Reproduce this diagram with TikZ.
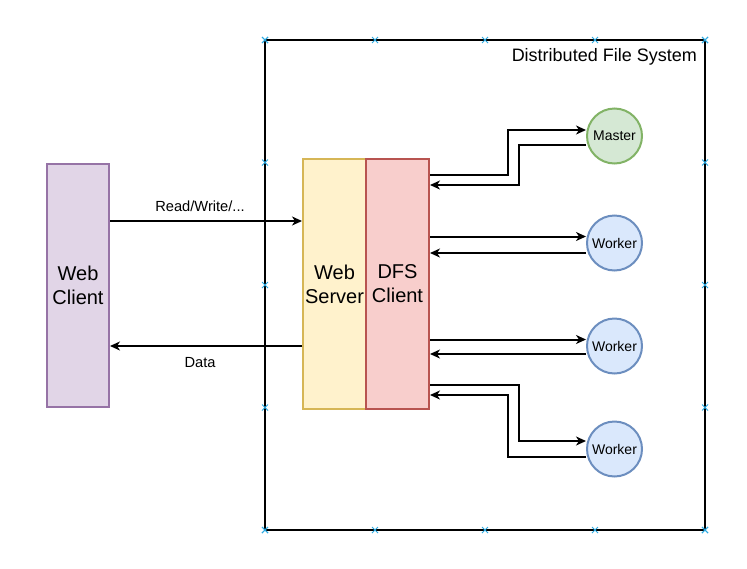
\documentclass[tikz,border=0pt]{standalone}
\usepackage{fontspec}
\setmainfont{Liberation Sans}
\usepackage{tikz}
\usetikzlibrary{arrows.meta}
\usetikzlibrary{shapes.misc}
\usetikzlibrary{positioning, calc}

\definecolor{wcfill}{HTML}{E1D5E7}
\definecolor{wcline}{HTML}{9673A6}
\definecolor{wsfill}{HTML}{FFF2CC}
\definecolor{wsline}{HTML}{D6B656}
\definecolor{dcfill}{HTML}{F8CECC}
\definecolor{dcline}{HTML}{B85450}
\definecolor{mfill}{HTML}{D5E8D4}
\definecolor{mline}{HTML}{82B366}
\definecolor{wfill}{HTML}{DAE8FC}
\definecolor{wline}{HTML}{6C8EBF}
\definecolor{markblue}{HTML}{29A9E1}

\begin{document}
\begin{tikzpicture}[x=1pt, y=-1pt]

\pgfmathsetmacro{\XL}{265}
\pgfmathsetmacro{\YT}{40}

\tikzset{
  box/.style={draw, line width=2pt, inner sep=0pt, align=center, font=\fontsize{20}{24}\selectfont},
  pnode/.style={draw, circle, line width=2pt, inner sep=0pt, minimum size=55pt, font=\fontsize{14}{16}\selectfont},
  lbl/.style={inner sep=0pt, font=\fontsize{14.67}{17}\selectfont},
  xmark/.style={draw=markblue, cross out, line width=1pt, inner sep=0pt, minimum size=5pt},
  >={Stealth[length=10pt, width=9pt, inset=3pt]},
}

\useasboundingbox (0,0) rectangle (747,568);

\node [draw, line width=2pt, inner sep=0pt, minimum width=440pt, minimum height=490pt] (DFS) at (485,285) {};
\node [anchor=east, inner sep=0pt, font=\fontsize{18}{21}\selectfont] (title) at (697,57) {Distributed File System};

\node [box, fill=wcfill, draw=wcline, minimum width=62pt, minimum height=243pt] (WC) at (78,285.5) {Web\\Client};
\node [box, fill=wsfill, draw=wsline, minimum width=63pt, minimum height=250pt] (WS) at (334.5,284) {Web\\Server};
\node [box, fill=dcfill, draw=dcline, minimum width=63pt, minimum height=250pt] (DC) at (397.5,284) {DFS\\Client};

\node [pnode, fill=mfill, draw=mline] (M) at (614.5,136) {Master};
\foreach \i/\y in {1/243, 2/346, 3/449}
  \node [pnode, fill=wfill, draw=wline] (W\i) at (614.5,\y) {Worker};

% web client <-> web server
\draw [line width=2pt, ->] (WC.east |- 0,221) -- (WS.west |- 0,221);
\node [lbl] (rw) at (200,206) {Read/Write/...};
\draw [line width=2pt, ->] (WS.west |- 0,346) -- (WC.east |- 0,346);
\node [lbl] (data) at (200,363) {Data};

% dfs client <-> master
\draw [line width=2pt, ->] (DC.east |- 0,175) -- (508,175) -- (508,130) -- (M.west |- 0,130);
\draw [line width=2pt, ->] (M.west |- 0,144.5) -- (518.5,144.5) -- (518.5,185) -- (DC.east |- 0,185);

% dfs client <-> workers
\draw [line width=2pt, ->] (DC.east |- 0,236.5) -- (W1.west |- 0,236.5);
\draw [line width=2pt, ->] (W1.west |- 0,253) -- (DC.east |- 0,253);
\draw [line width=2pt, ->] (DC.east |- 0,339.5) -- (W2.west |- 0,339.5);
\draw [line width=2pt, ->] (W2.west |- 0,354) -- (DC.east |- 0,354);
\draw [line width=2pt, ->] (DC.east |- 0,385) -- (518.5,385) -- (518.5,441) -- (W3.west |- 0,441);
\draw [line width=2pt, ->] (W3.west |- 0,456.5) -- (508,456.5) -- (508,395) -- (DC.east |- 0,395);

% connection marks on the frame
\foreach \k in {0,...,4} {
  \pgfmathsetmacro{\xx}{\XL+110*\k}
  \pgfmathsetmacro{\yy}{\YT+122.5*\k}
  \node [xmark] (xt\k) at (\xx,40) {};
  \node [xmark] (xb\k) at (\xx,530) {};
  \node [xmark] (xl\k) at (265,\yy) {};
  \node [xmark] (xr\k) at (705,\yy) {};
}

\end{tikzpicture}
\end{document}
